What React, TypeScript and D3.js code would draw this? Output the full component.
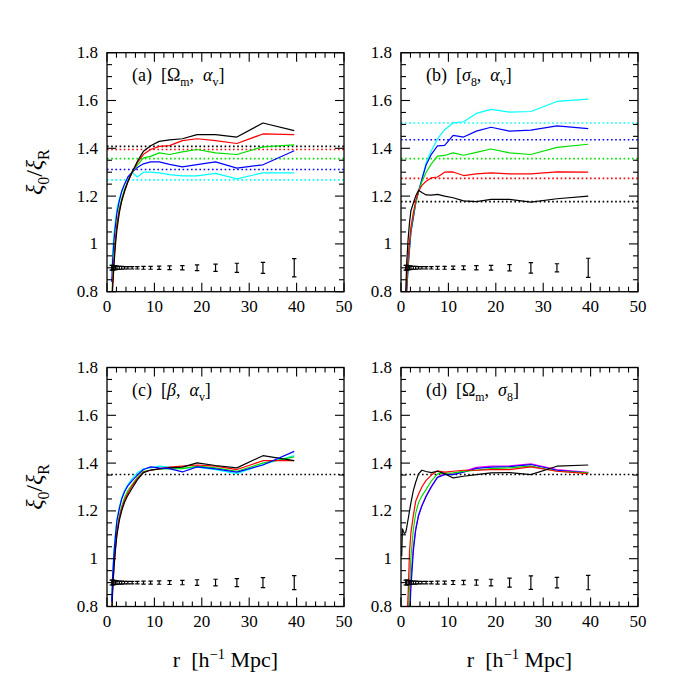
import React from "react";
import * as d3 from "d3";

// ---------- data ----------
const R_GRID = [1.0, 1.2, 1.5, 1.8, 2.1, 2.6, 3.1, 3.7, 4.4, 5.3, 6.4, 7.7, 9.2, 11.0, 13.2, 15.9, 19.0, 22.9, 27.4, 32.9, 39.5];
const R_D_BLACK = [0.15, 0.3, 0.7, 1.0, 1.2, 1.5, 1.8, 2.1, 2.6, 3.1, 3.7, 4.4, 5.3, 6.4, 7.7, 9.2, 11.0, 13.2, 15.9, 19.0, 22.9, 27.4, 32.9, 39.5];

// panel (a) [Omega_m, alpha_v]
const A_CYAN = [0.88, 0.97, 1.05, 1.10, 1.15, 1.19, 1.22, 1.25, 1.27, 1.30, 1.28, 1.30, 1.30, 1.297, 1.29, 1.285, 1.285, 1.295, 1.272, 1.297, 1.297];
const A_BLUE = [0.84, 0.93, 1.02, 1.08, 1.13, 1.18, 1.22, 1.25, 1.28, 1.30, 1.32, 1.335, 1.343, 1.343, 1.333, 1.322, 1.332, 1.343, 1.317, 1.331, 1.39];
const A_GREEN = [0.76, 0.86, 0.96, 1.03, 1.09, 1.15, 1.19, 1.23, 1.26, 1.30, 1.33, 1.36, 1.366, 1.381, 1.374, 1.385, 1.395, 1.381, 1.374, 1.406, 1.414];
const A_RED = [0.74, 0.84, 0.94, 1.02, 1.08, 1.14, 1.18, 1.22, 1.26, 1.30, 1.34, 1.375, 1.395, 1.408, 1.411, 1.432, 1.44, 1.432, 1.42, 1.46, 1.457];
const A_BLACK = [0.72, 0.82, 0.92, 1.0, 1.06, 1.13, 1.18, 1.22, 1.26, 1.30, 1.345, 1.388, 1.411, 1.429, 1.435, 1.44, 1.457, 1.457, 1.447, 1.506, 1.474];
const A_REFS = [1.408, 1.395, 1.357, 1.311, 1.268]; // black, red, green, blue, cyan
const A_ERR = [0.010, 0.010, 0.009, 0.008, 0.007, 0.006, 0.006, 0.005, 0.005, 0.005, 0.005, 0.006, 0.006, 0.007, 0.008, 0.009, 0.012, 0.015, 0.019, 0.023, 0.038];

// panel (b) [sigma_8, alpha_v]
const B_CYAN = [0.70, 0.80, 0.90, 0.98, 1.05, 1.11, 1.17, 1.22, 1.27, 1.34, 1.39, 1.439, 1.478, 1.506, 1.511, 1.546, 1.563, 1.551, 1.554, 1.596, 1.606];
const B_BLUE = [0.70, 0.80, 0.90, 0.98, 1.05, 1.11, 1.17, 1.22, 1.27, 1.33, 1.375, 1.41, 1.412, 1.454, 1.447, 1.472, 1.488, 1.472, 1.476, 1.494, 1.482];
const B_GREEN = [0.72, 0.82, 0.92, 1.0, 1.06, 1.12, 1.17, 1.22, 1.26, 1.30, 1.335, 1.367, 1.37, 1.381, 1.371, 1.383, 1.397, 1.381, 1.374, 1.404, 1.417];
const B_RED = [0.74, 0.84, 0.94, 1.01, 1.07, 1.13, 1.18, 1.22, 1.245, 1.262, 1.276, 1.28, 1.30, 1.301, 1.286, 1.293, 1.297, 1.293, 1.293, 1.301, 1.30];
const B_BLACK = [0.80, 0.92, 1.02, 1.09, 1.14, 1.17, 1.20, 1.224, 1.215, 1.205, 1.204, 1.207, 1.20, 1.193, 1.18, 1.177, 1.186, 1.186, 1.175, 1.189, 1.20];
const B_REFS = [1.177, 1.274, 1.357, 1.436, 1.506]; // black, red, green, blue, cyan
const B_ERR = [0.010, 0.010, 0.009, 0.008, 0.007, 0.006, 0.006, 0.005, 0.005, 0.005, 0.005, 0.006, 0.006, 0.007, 0.008, 0.009, 0.010, 0.013, 0.022, 0.017, 0.040];

// panel (c) [beta, alpha_v]
const C_CYAN = [0.83, 0.94, 1.04, 1.11, 1.165, 1.215, 1.255, 1.285, 1.31, 1.335, 1.36, 1.376, 1.38, 1.387, 1.383, 1.377, 1.383, 1.373, 1.356, 1.394, 1.431];
const C_BLUE = [0.82, 0.93, 1.03, 1.10, 1.16, 1.21, 1.25, 1.28, 1.305, 1.327, 1.35, 1.373, 1.384, 1.38, 1.377, 1.363, 1.384, 1.376, 1.362, 1.392, 1.449];
const C_GREEN = [0.78, 0.89, 0.99, 1.06, 1.12, 1.18, 1.22, 1.255, 1.285, 1.31, 1.34, 1.366, 1.37, 1.376, 1.376, 1.377, 1.387, 1.38, 1.366, 1.40, 1.426];
const C_RED = [0.77, 0.88, 0.98, 1.05, 1.11, 1.17, 1.21, 1.245, 1.275, 1.305, 1.335, 1.362, 1.37, 1.376, 1.383, 1.387, 1.392, 1.387, 1.373, 1.41, 1.41];
const C_BLACK = [0.76, 0.87, 0.97, 1.04, 1.10, 1.16, 1.20, 1.236, 1.265, 1.295, 1.33, 1.36, 1.371, 1.376, 1.38, 1.383, 1.401, 1.39, 1.38, 1.431, 1.41];
const C_REFS = [1.352];
const C_ERR = [0.010, 0.010, 0.009, 0.008, 0.007, 0.006, 0.006, 0.005, 0.005, 0.005, 0.005, 0.006, 0.006, 0.007, 0.008, 0.009, 0.012, 0.014, 0.017, 0.021, 0.029];

// panel (d) [Omega_m, sigma_8]
const D_MAGENTA = [0.55, 0.62, 0.70, 0.80, 0.92, 1.05, 1.125, 1.183, 1.223, 1.263, 1.303, 1.342, 1.355, 1.355, 1.366, 1.382, 1.387, 1.388, 1.397, 1.373, 1.361];
const D_BLUE = [0.45, 0.52, 0.62, 0.75, 0.88, 1.03, 1.12, 1.18, 1.22, 1.26, 1.30, 1.34, 1.352, 1.352, 1.362, 1.378, 1.383, 1.385, 1.394, 1.37, 1.359];
const D_GREEN = [0.56, 0.64, 0.76, 0.88, 1.01, 1.12, 1.19, 1.235, 1.262, 1.29, 1.325, 1.355, 1.358, 1.359, 1.365, 1.37, 1.377, 1.38, 1.387, 1.366, 1.359];
const D_RED = [0.62, 0.72, 0.85, 1.03, 1.11, 1.18, 1.24, 1.27, 1.30, 1.328, 1.35, 1.368, 1.362, 1.366, 1.37, 1.37, 1.373, 1.373, 1.384, 1.366, 1.356];
const D_BLACK = [1.01, 1.125, 1.105, 1.11, 1.13, 1.165, 1.20, 1.235, 1.285, 1.32, 1.355, 1.37, 1.365, 1.36, 1.366, 1.356, 1.338, 1.345, 1.352, 1.359, 1.36, 1.352, 1.387, 1.392];
const D_REFS = [1.352];
const D_ERR = [0.010, 0.010, 0.009, 0.008, 0.007, 0.006, 0.006, 0.005, 0.005, 0.005, 0.005, 0.006, 0.006, 0.008, 0.009, 0.011, 0.014, 0.019, 0.028, 0.022, 0.030];

const X_TICKS = [0, 10, 20, 30, 40, 50];
const Y_TICKS = [0.8, 1, 1.2, 1.4, 1.6, 1.8];
const Y_TICK_LABELS = ["0.8", "1", "1.2", "1.4", "1.6", "1.8"];

const BLACK = "#000000", RED = "#ff0000", GREEN = "#00e000", BLUE = "#0000ff", CYAN = "#00ffff", MAGENTA = "#ff00ff";
const FONT = "Liberation Serif, DejaVu Serif, serif";

type Part = { t: string; sub?: boolean; sup?: boolean; it?: boolean };

function RichText({ parts, size, ...rest }: { parts: Part[]; size: number; [k: string]: any }) {
  let cur = 0;
  return (
    <text fontSize={size} style={{ fontFamily: FONT, whiteSpace: "pre" }} {...rest}>
      {parts.map((p, i) => {
        const target = p.sub ? size * 0.3 : p.sup ? -size * 0.38 : 0;
        const dy = target - cur;
        cur = target;
        return (
          <tspan key={i} dy={dy} fontSize={p.sub || p.sup ? size * 0.66 : size} fontStyle={p.it ? "italic" : "normal"}>
            {p.t}
          </tspan>
        );
      })}
    </text>
  );
}

type Series = { r: number[]; v: number[]; color: string };

function Panel({ id, x0, y0, w, h, title, series, refs, refColors, err }: any) {
  const xs = d3.scaleLinear().domain([0, 50]).range([x0, x0 + w]);
  const ys = d3.scaleLinear().domain([0.8, 1.8]).range([y0 + h, y0]);
  const line = d3.line<[number, number]>().x((d) => xs(d[0])).y((d) => ys(d[1]));
  const xMinor = d3.range(0, 50.001, 2);
  const yMinor = d3.range(0.8, 1.8001, 0.05);
  const clip = `clip-${id}`;
  const M = 9, m = 5;
  return (
    <g>
      <defs>
        <clipPath id={clip}>
          <rect x={x0} y={y0} width={w} height={h} />
        </clipPath>
      </defs>
      <g clipPath={`url(#${clip})`}>
        {refs.map((v: number, i: number) => (
          <line key={"ref" + i} x1={x0} x2={x0 + w} y1={ys(v)} y2={ys(v)} stroke={refColors[i]} strokeWidth={1.6} strokeDasharray="1.6 2.6" />
        ))}
        {series.map((s: Series, i: number) => (
          <path key={"s" + i} d={line(s.r.map((r, j) => [r, s.v[j]]) as [number, number][]) || ""} fill="none" stroke={s.color} strokeWidth={1.2} strokeLinejoin="round" />
        ))}
        {R_GRID.map((r, i) => {
          const cx = xs(r);
          const yt = ys(0.9 + err[i]);
          const yb = ys(0.9 - err[i]);
          return (
            <g key={"e" + i} stroke="#000" strokeWidth={1.2}>
              <line x1={cx} x2={cx} y1={yt} y2={yb} />
              <line x1={cx - 2.2} x2={cx + 2.2} y1={yt} y2={yt} />
              <line x1={cx - 2.2} x2={cx + 2.2} y1={yb} y2={yb} />
            </g>
          );
        })}
      </g>
      <rect x={x0} y={y0} width={w} height={h} fill="none" stroke="#000" strokeWidth={1.3} />
      {xMinor.map((t, i) => {
        const len = Math.abs(t % 10) < 1e-6 ? M : m;
        const x = xs(t);
        return (
          <g key={"xt" + i} stroke="#000" strokeWidth={1.1}>
            <line x1={x} x2={x} y1={y0 + h} y2={y0 + h - len} />
            <line x1={x} x2={x} y1={y0} y2={y0 + len} />
          </g>
        );
      })}
      {yMinor.map((t, i) => {
        const major = Math.abs(Math.round(t * 5) - t * 5) < 1e-6;
        const len = major ? M : m;
        const y = ys(t);
        return (
          <g key={"yt" + i} stroke="#000" strokeWidth={1.1}>
            <line x1={x0} x2={x0 + len} y1={y} y2={y} />
            <line x1={x0 + w} x2={x0 + w - len} y1={y} y2={y} />
          </g>
        );
      })}
      {X_TICKS.map((t, i) => (
        <text key={"xl" + i} x={xs(t)} y={y0 + h + 20} textAnchor="middle" fontSize={17} style={{ fontFamily: FONT }}>
          {t}
        </text>
      ))}
      {Y_TICKS.map((t, i) => (
        <text key={"yl" + i} x={x0 - 9} y={ys(t) + 5.5} textAnchor="end" fontSize={17} style={{ fontFamily: FONT }}>
          {Y_TICK_LABELS[i]}
        </text>
      ))}
      <RichText parts={title} size={18} x={x0 + 25} y={y0 + 28} />
    </g>
  );
}

export default function App() {
  const W = 237, H = 239;
  const LX = 107, RX = 401, TY = 52.7, BY = 367.5;
  const mk = (v: number[], color: string, r: number[] = R_GRID): Series => ({ r, v, color });
  const refColorsAB = [BLACK, RED, GREEN, BLUE, CYAN];
  const yTitle: Part[] = [{ t: "ξ", it: true }, { t: "0", sub: true }, { t: "/" }, { t: "ξ", it: true }, { t: "R", sub: true }];
  const xTitle: Part[] = [{ t: "r  [h" }, { t: "−1", sup: true }, { t: " Mpc]" }];
  return (
    <svg width={692} height={692} style={{ display: "block", position: "absolute", left: 0, top: 0, background: "#fff" }}>
      <rect x={0} y={0} width={692} height={692} fill="#fff" />
      <Panel id="a" x0={LX} y0={TY} w={W} h={H}
        title={[{ t: "(a)  [Ω" }, { t: "m", sub: true }, { t: ",  " }, { t: "α", it: true }, { t: "v", sub: true }, { t: "]" }]}
        series={[mk(A_CYAN, CYAN), mk(A_BLUE, BLUE), mk(A_GREEN, GREEN), mk(A_RED, RED), mk(A_BLACK, BLACK)]}
        refs={A_REFS} refColors={refColorsAB} err={A_ERR} />
      <Panel id="b" x0={RX} y0={TY} w={W} h={H}
        title={[{ t: "(b)  [" }, { t: "σ", it: true }, { t: "8", sub: true }, { t: ",  " }, { t: "α", it: true }, { t: "v", sub: true }, { t: "]" }]}
        series={[mk(B_CYAN, CYAN), mk(B_BLUE, BLUE), mk(B_GREEN, GREEN), mk(B_RED, RED), mk(B_BLACK, BLACK)]}
        refs={B_REFS} refColors={refColorsAB} err={B_ERR} />
      <Panel id="c" x0={LX} y0={BY} w={W} h={H}
        title={[{ t: "(c)  [" }, { t: "β", it: true }, { t: ",  " }, { t: "α", it: true }, { t: "v", sub: true }, { t: "]" }]}
        series={[mk(C_CYAN, CYAN), mk(C_GREEN, GREEN), mk(C_RED, RED), mk(C_BLACK, BLACK), mk(C_BLUE, BLUE)]}
        refs={C_REFS} refColors={[BLACK]} err={C_ERR} />
      <Panel id="d" x0={RX} y0={BY} w={W} h={H}
        title={[{ t: "(d)  [Ω" }, { t: "m", sub: true }, { t: ",  " }, { t: "σ", it: true }, { t: "8", sub: true }, { t: "]" }]}
        series={[mk(D_MAGENTA, MAGENTA), mk(D_BLUE, BLUE), mk(D_GREEN, GREEN), mk(D_RED, RED), mk(D_BLACK, BLACK, R_D_BLACK)]}
        refs={D_REFS} refColors={[BLACK]} err={D_ERR} />
      <RichText parts={yTitle} size={24} x={0} y={0} textAnchor="middle" transform={`translate(42, ${TY + H / 2}) rotate(-90)`} />
      <RichText parts={yTitle} size={24} x={0} y={0} textAnchor="middle" transform={`translate(42, ${BY + H / 2}) rotate(-90)`} />
      <RichText parts={xTitle} size={22} x={LX + W / 2} y={667} textAnchor="middle" />
      <RichText parts={xTitle} size={22} x={RX + W / 2} y={667} textAnchor="middle" />
    </svg>
  );
}
